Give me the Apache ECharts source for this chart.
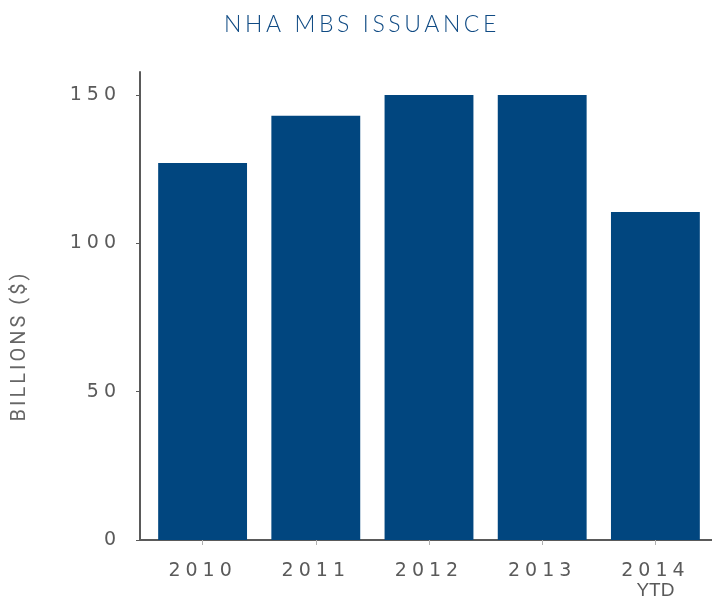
<!DOCTYPE html>
<html>
<head>
<meta charset="utf-8">
<script src="https://cdn.jsdelivr.net/npm/echarts@6/dist/echarts.min.js"></script>
<style>
  html, body { margin: 0; padding: 0; background: #ffffff; }
  #chart { width: 712px; height: 597px; }
</style>
</head>
<body>
<div id="chart"></div>
<script>
// ---- data ----
const categories = ['2010', '2011', '2012', '2013', '2014 YTD'];
const issuance = [127.1, 143.0, 150.0, 150.0, 110.6];
const yTicks = [0, 50, 100, 150];
const titleText = 'NHA MBS ISSUANCE';
const yAxisTitle = 'BILLIONS ($)';

// letter spacing per font family (canvas supports ctx.letterSpacing)
(function () {
  const proto = CanvasRenderingContext2D.prototype;
  const orig = proto.fillText;
  proto.fillText = function (t, x, y, w) {
    const f = this.font || '';
    let ls = '0px';
    if (f.indexOf('DejaVu Sans') >= 0) ls = '5px';
    else if (f.indexOf('Lato') >= 0) ls = '3.6px';
    else if (f.indexOf('Roboto') >= 0) ls = '3px';
    try { this.letterSpacing = ls; } catch (e) {}
    return w === undefined ? orig.call(this, t, x, y) : orig.call(this, t, x, y, w);
  };
})();

const chart = echarts.init(document.getElementById('chart'), null, { renderer: 'canvas' });
const grey = '#5a5a5a';
const option = {
  animation: false,
  backgroundColor: '#ffffff',
  title: {
    text: titleText,
    left: 357,
    textAlign: 'center',
    top: 8,
    textStyle: { fontFamily: 'Lato', fontWeight: 300, fontSize: 23, color: '#104b84' }
  },
  grid: { left: 146, top: 72, width: 566, height: 468, containLabel: false, outerBoundsMode: 'none' },
  xAxis: {
    type: 'category',
    data: categories,
    axisLine: { lineStyle: { color: grey, width: 2 } },
    axisTick: { show: true, alignWithLabel: true, length: 5, lineStyle: { color: '#b0b0b0' } },
    axisLabel: {
      interval: 0,
      margin: 21,
      color: grey,
      fontFamily: 'DejaVu Sans',
      fontSize: 19,
      lineHeight: 20,
      formatter: function (v) {
        const parts = v.split(' ');
        return parts.length > 1 ? parts[0] + '\n{ytd|' + parts[1] + '}' : v;
      },
      rich: {
        ytd: { fontFamily: 'Liberation Sans', fontSize: 19, color: grey, lineHeight: 20 }
      }
    },
    splitLine: { show: false }
  },
  yAxis: {
    type: 'value',
    min: 0,
    max: 157.75,
    offset: 6,
    axisLine: { show: true, lineStyle: { color: grey, width: 2 } },
    axisTick: { show: true, length: 4, customValues: yTicks, lineStyle: { color: grey } },
    axisLabel: {
      customValues: yTicks,
      margin: 19,
      color: grey,
      fontFamily: 'DejaVu Sans',
      fontSize: 19
    },
    splitLine: { show: false }
  },
  graphic: [
    {
      type: 'line',
      shape: { x1: 139, y1: 540, x2: 147, y2: 540 },
      style: { stroke: grey, lineWidth: 2 }
    },
    {
      type: 'text',
      x: 20,
      y: 346,
      rotation: Math.PI / 2,
      style: {
        text: yAxisTitle,
        fontFamily: 'Roboto',
        fontSize: 20,
        fill: '#666666',
        align: 'center',
        verticalAlign: 'middle'
      }
    }
  ],
  series: [{
    type: 'bar',
    data: issuance,
    barCategoryGap: '21.5%',
    itemStyle: { color: '#01467f' }
  }]
};
chart.setOption(option);
</script>
</body>
</html>
